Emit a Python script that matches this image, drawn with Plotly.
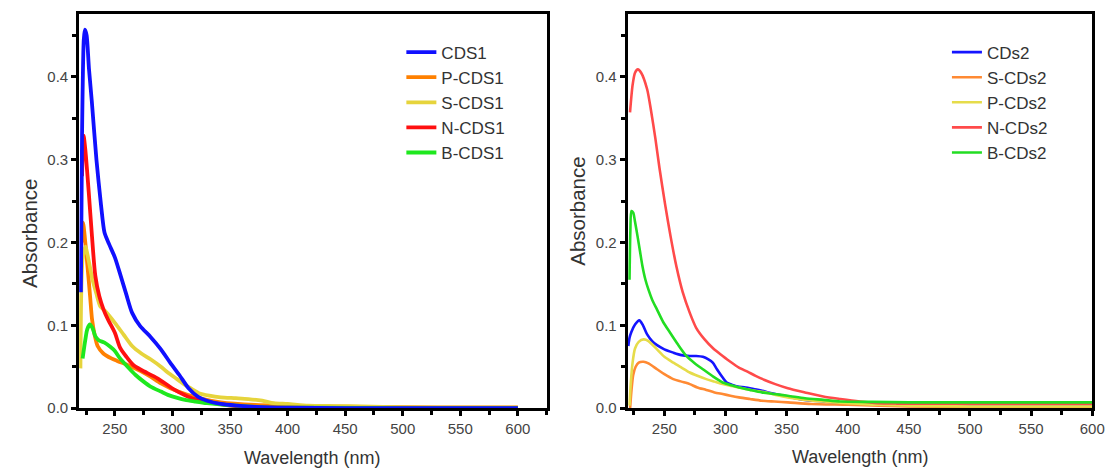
import plotly.graph_objects as go

W, H = 1116, 474

# ---------------- Left panel data (CDS1 series) ----------------
x_cds1 = [220.5, 221.5, 223, 224, 225.5, 227.5, 230, 234, 238, 241, 245, 250, 255, 260, 265, 272, 281, 290, 298, 306, 314, 322, 330, 342, 356, 372, 400, 450, 500, 550, 600]
y_cds1 = [0.14, 0.33, 0.445, 0.457, 0.45, 0.41, 0.37, 0.30, 0.245, 0.212, 0.198, 0.182, 0.16, 0.137, 0.115, 0.099, 0.086, 0.071, 0.055, 0.040, 0.024, 0.014, 0.009, 0.005, 0.003, 0.0015, 0.0005, 0.0, 0.0, 0.0, 0.0]

x_pcds1 = [221.5, 222.4, 224, 226.5, 228.5, 230.2, 232.5, 235, 240, 247, 252, 263, 272, 281, 290, 305, 323, 342, 372, 403, 464, 530, 600]
y_pcds1 = [0.20, 0.224, 0.205, 0.167, 0.135, 0.107, 0.088, 0.075, 0.066, 0.060, 0.057, 0.051, 0.045, 0.038, 0.030, 0.020, 0.012, 0.007, 0.004, 0.003, 0.0015, 0.001, 0.001]

x_scds1 = [220.1, 220.8, 222, 224.4, 227, 230, 234, 237.3, 241, 250, 258, 265, 273, 281, 290, 296, 304, 311, 318, 323, 332, 342, 355, 366, 378, 388, 400, 418, 440, 464, 500, 550, 600]
y_scds1 = [0.048, 0.138, 0.18, 0.195, 0.18, 0.159, 0.138, 0.123, 0.118, 0.103, 0.088, 0.075, 0.066, 0.059, 0.050, 0.043, 0.035, 0.028, 0.022, 0.018, 0.015, 0.013, 0.012, 0.011, 0.009, 0.006, 0.005, 0.003, 0.0025, 0.002, 0.001, 0.0005, 0.0005]

x_ncds1 = [221.5, 222.8, 224.5, 227.3, 230, 233, 236.5, 240.2, 244, 250, 254.5, 260, 266, 273, 287, 302, 317, 336, 357, 380, 400, 450, 500, 550, 600]
y_ncds1 = [0.28, 0.329, 0.31, 0.261, 0.21, 0.16, 0.135, 0.119, 0.107, 0.091, 0.073, 0.062, 0.052, 0.046, 0.036, 0.022, 0.012, 0.006, 0.002, 0.001, 0.0005, 0.0, 0.0, 0.0, 0.0]

x_bcds1 = [222, 224.4, 226, 228.2, 230.5, 233, 236, 241, 246, 250, 254.5, 261, 268, 275, 281, 290, 296, 305, 311, 320, 330, 345, 357, 380, 420, 500, 600]
y_bcds1 = [0.06, 0.083, 0.095, 0.101, 0.097, 0.087, 0.082, 0.079, 0.074, 0.069, 0.060, 0.050, 0.040, 0.032, 0.026, 0.020, 0.016, 0.012, 0.010, 0.008, 0.006, 0.004, 0.003, 0.001, 0.0005, 0.0, 0.0]

# ---------------- Right panel data (CDs2 series) ----------------
x_cds2 = [220.5, 221.5, 223, 226, 229.5, 232.5, 235.9, 240, 244, 250, 257.3, 264, 270.8, 276, 281.5, 286, 289.6, 293, 297.7, 301, 305.7, 310, 316.5, 323, 330, 335, 340.7, 351, 365, 380, 394, 420, 450, 500, 550, 600]
y_cds2 = [0.075, 0.085, 0.092, 0.101, 0.106, 0.100, 0.089, 0.081, 0.076, 0.071, 0.067, 0.064, 0.063, 0.063, 0.062, 0.059, 0.055, 0.047, 0.037, 0.031, 0.028, 0.026, 0.025, 0.023, 0.021, 0.019, 0.017, 0.014, 0.010, 0.008, 0.006, 0.005, 0.005, 0.0045, 0.0045, 0.0045]

x_scds2 = [222, 223, 224.5, 226.5, 229, 233, 237, 244, 250, 257.3, 264, 270.8, 277, 284.3, 291, 297.7, 304, 311, 320, 329.7, 340, 351, 370, 400, 450, 500, 550, 600]
y_scds2 = [0.0, 0.02, 0.04, 0.05, 0.055, 0.056, 0.054, 0.047, 0.041, 0.035, 0.032, 0.029, 0.025, 0.022, 0.019, 0.017, 0.015, 0.013, 0.011, 0.009, 0.008, 0.007, 0.005, 0.004, 0.002, 0.0015, 0.0015, 0.0015]

x_pcds2 = [221.5, 222.5, 224, 226, 229, 233, 237, 244, 250, 257.3, 264, 270.8, 277, 284.3, 291, 297.7, 307, 316.5, 324, 332.5, 341, 351, 365, 380, 400, 425, 450, 500, 550, 600]
y_pcds2 = [0.003, 0.03, 0.055, 0.072, 0.080, 0.083, 0.081, 0.071, 0.062, 0.055, 0.049, 0.043, 0.039, 0.035, 0.032, 0.029, 0.026, 0.023, 0.021, 0.019, 0.016, 0.013, 0.010, 0.008, 0.006, 0.004, 0.003, 0.002, 0.002, 0.002]

x_ncds2 = [221.9, 224, 226, 228.3, 231, 235.9, 239, 242.6, 246, 250.6, 255, 260, 265, 270.8, 276, 282.9, 290, 297.7, 304, 311, 318, 324.6, 332, 340.7, 351, 365, 380, 394, 410, 424, 440, 453, 480, 520, 560, 600]
y_ncds2 = [0.357, 0.390, 0.405, 0.409, 0.405, 0.385, 0.360, 0.326, 0.290, 0.246, 0.208, 0.170, 0.140, 0.115, 0.097, 0.083, 0.072, 0.063, 0.056, 0.049, 0.044, 0.039, 0.034, 0.029, 0.024, 0.019, 0.014, 0.011, 0.008, 0.006, 0.0055, 0.0055, 0.0055, 0.0055, 0.0055, 0.0055]

x_bcds2 = [221.5, 222.2, 223, 224.5, 226, 228, 230, 232, 234.5, 237, 240, 244, 249, 254.7, 261, 268, 275, 281.5, 290, 297.7, 304, 311, 320, 329.7, 340, 351, 365, 380, 394, 420, 450, 500, 550, 600]
y_bcds2 = [0.155, 0.215, 0.238, 0.236, 0.225, 0.208, 0.190, 0.172, 0.155, 0.143, 0.131, 0.119, 0.104, 0.091, 0.077, 0.063, 0.054, 0.047, 0.038, 0.031, 0.028, 0.025, 0.022, 0.019, 0.017, 0.015, 0.012, 0.010, 0.008, 0.0075, 0.007, 0.007, 0.007, 0.007]

left_names = ["CDS1", "P-CDS1", "S-CDS1", "N-CDS1", "B-CDS1"]
right_names = ["CDs2", "S-CDs2", "P-CDs2", "N-CDs2", "B-CDs2"]
left_colors = ["#1010ff", "#ff8000", "#e6d43c", "#ff1010", "#1ee81e"]
right_colors = ["#1414ff", "#ff8a33", "#e6dc4a", "#ff4a4a", "#22dd22"]

left_series = [(x_cds1, y_cds1), (x_pcds1, y_pcds1), (x_scds1, y_scds1), (x_ncds1, y_ncds1), (x_bcds1, y_bcds1)]
right_series = [(x_cds2, y_cds2), (x_scds2, y_scds2), (x_pcds2, y_pcds2), (x_ncds2, y_ncds2), (x_bcds2, y_bcds2)]

# drawing order (blue on top in left panel), legend order kept via legendrank
left_draw = [1, 2, 3, 4, 0]

fig = go.Figure()
for i in left_draw:
    xs, ys = left_series[i]
    fig.add_trace(go.Scatter(x=xs, y=ys, name=left_names[i], mode="lines",
                             line=dict(color=left_colors[i], width=3.8, shape="spline", smoothing=0.7),
                             xaxis="x", yaxis="y", legend="legend", legendrank=100 + i))
for i, ((xs, ys), name, col) in enumerate(zip(right_series, right_names, right_colors)):
    fig.add_trace(go.Scatter(x=xs, y=ys, name=name, mode="lines",
                             line=dict(color=col, width=2.6, shape="spline", smoothing=0.7),
                             xaxis="x2", yaxis="y2", legend="legend2", legendrank=100 + i))

FONT = "Liberation Sans, Arial, sans-serif"
TICKFONT = dict(family=FONT, size=15, color="#444")

def px_x(p):
    return p / W

def px_y(p):
    return 1 - p / H

common_x = dict(showline=True, linewidth=3, linecolor="black", mirror=True,
                ticks="outside", ticklen=5, tickwidth=3, tickcolor="black",
                tick0=250, dtick=50, showgrid=False, zeroline=False,
                tickfont=TICKFONT,
                minor=dict(ticks="outside", ticklen=4, tickwidth=2.5, tickcolor="black", dtick=25, tick0=225, showgrid=False))
common_y = dict(showline=True, linewidth=3, linecolor="black", mirror=True,
                ticks="outside", ticklen=5, tickwidth=3, tickcolor="black",
                tick0=0, dtick=0.1, tickformat=".1f", showgrid=False, zeroline=False,
                tickfont=TICKFONT, range=[0, 0.476],
                minor=dict(ticks="outside", ticklen=4, tickwidth=2.5, tickcolor="black", dtick=0.05, showgrid=False),
                domain=[px_y(407), px_y(6)])

fig.update_layout(
    width=W, height=H,
    margin=dict(l=0, r=0, t=0, b=0),
    paper_bgcolor="white", plot_bgcolor="white",
    xaxis=dict(common_x, domain=[px_x(72), px_x(545)], range=[219, 625], anchor="y"),
    yaxis=dict(common_y, anchor="x"),
    xaxis2=dict(common_x, domain=[px_x(627), px_x(1097)], range=[220, 600], anchor="y2"),
    yaxis2=dict(common_y, anchor="x2"),
    legend=dict(x=px_x(398), y=px_y(27), xanchor="left", yanchor="top",
                bgcolor="rgba(0,0,0,0)", font=dict(family=FONT, size=17, color="#333"),
                tracegroupgap=0),
    legend2=dict(x=px_x(950), y=px_y(27), xanchor="left", yanchor="top",
                 bgcolor="rgba(0,0,0,0)", font=dict(family=FONT, size=17, color="#333"),
                 tracegroupgap=0),
    showlegend=True,
)

title_font = dict(family=FONT, size=18, color="#333")
vtitle_font = dict(family=FONT, size=20.5, color="#333")
annotations = [
    dict(text="Absorbance", x=px_x(21), y=px_y(229), textangle=-90, showarrow=False,
         xref="paper", yref="paper", xanchor="center", yanchor="middle", font=vtitle_font),
    dict(text="Absorbance", x=px_x(576), y=px_y(207), textangle=-90, showarrow=False,
         xref="paper", yref="paper", xanchor="center", yanchor="middle", font=vtitle_font),
    dict(text="Wavelength (nm)", x=px_x(308), y=px_y(458), showarrow=False,
         xref="paper", yref="paper", xanchor="center", yanchor="middle", font=title_font),
    dict(text="Wavelength (nm)", x=px_x(862), y=px_y(457), showarrow=False,
         xref="paper", yref="paper", xanchor="center", yanchor="middle", font=title_font),
]
fig.update_layout(annotations=annotations)

fig.write_html("out.html")
